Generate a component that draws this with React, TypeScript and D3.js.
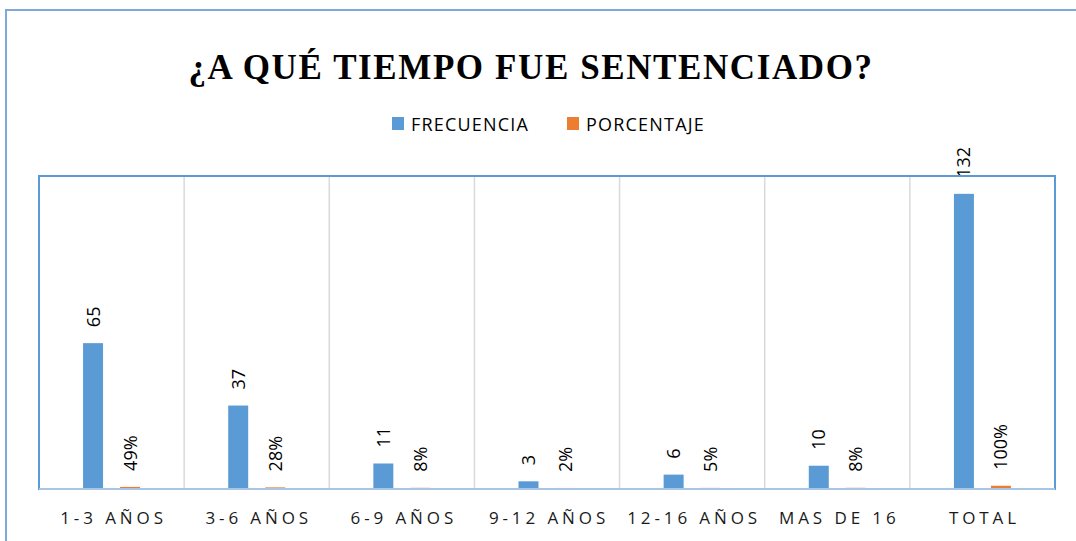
import { useMemo } from "react";
import * as d3 from "d3";

const categories = ["1-3 AÑOS", "3-6 AÑOS", "6-9 AÑOS", "9-12 AÑOS", "12-16 AÑOS", "MAS DE 16", "TOTAL"];
const series = ["FRECUENCIA", "PORCENTAJE"];
const frecuencia = [65, 37, 11, 3, 6, 10, 132];
const porcentaje = [0.49, 0.28, 0.08, 0.02, 0.05, 0.08, 1];
const colors = ["#5b9bd5", "#ed7d31"];

const width = 1076;
const height = 541;
const plot = { left: 39, right: 1055, top: 176, bottom: 488 };

const App = () => {
    const x0 = useMemo(
        () => d3.scaleBand().domain(categories).range([plot.left, plot.right]).padding(0),
        []
    );
    const x1 = d3
        .scaleBand()
        .domain(series)
        .range([0, x0.bandwidth()])
        .paddingInner(0.46)
        .paddingOuter(1.19);
    const y = d3.scaleLinear().domain([0, 140]).range([plot.bottom, plot.top]);

    const rows = categories.map((c, i) => ({
        cat: c,
        vals: [
            { s: series[0], v: frecuencia[i], label: String(frecuencia[i]) },
            { s: series[1], v: porcentaje[i], label: Math.round(porcentaje[i] * 100) + "%" },
        ],
    }));

    const labelFont = "'Open Sans', 'Noto Sans', sans-serif";

    return (
        <svg
            width={width}
            height={height}
            viewBox={`0 0 ${width} ${height}`}
            style={{ position: "absolute", left: 0, top: 0, background: "#fff" }}
        >
            {/* outer chart frame */}
            <rect x={6} y={10} width={1090} height={560} fill="#fff" stroke="#7fa9d8" strokeWidth={2} />

            <text
                x={531}
                y={79}
                textAnchor="middle"
                fontFamily="'Liberation Serif', 'Times New Roman', serif"
                fontWeight="bold"
                fontSize={35}
                letterSpacing={1.6}
                fill="#000"
            >
                ¿A QUÉ TIEMPO FUE SENTENCIADO?
            </text>

            {/* legend */}
            <g fontFamily={labelFont} fontSize={18} letterSpacing={1.2} fill="#000">
                <rect x={392} y={117} width={12} height={13} fill={colors[0]} />
                <text x={411} y={131}>FRECUENCIA</text>
                <rect x={567} y={117} width={12} height={13} fill={colors[1]} />
                <text x={586} y={131}>PORCENTAJE</text>
            </g>

            {/* vertical gridlines between categories */}
            <g stroke="#d9d9d9" strokeWidth={1.5}>
                {categories.slice(1).map((c) => (
                    <line key={c} x1={x0(c)} x2={x0(c)} y1={plot.top} y2={plot.bottom} />
                ))}
            </g>

            <g className="bars">
                {rows.map((r) => (
                    <g key={r.cat} transform={`translate(${x0(r.cat)},0)`}>
                        {r.vals.map((d, j) => (
                            <rect
                                key={d.s}
                                x={x1(d.s)}
                                y={y(d.v)}
                                width={x1.bandwidth()}
                                height={y(0) - y(d.v)}
                                fill={colors[j]}
                            />
                        ))}
                        {r.vals.map((d) => {
                            const cx = (x1(d.s) ?? 0) + x1.bandwidth() / 2;
                            const ty = y(d.v) - 16;
                            return (
                                <text
                                    key={d.s + "l"}
                                    transform={`translate(${cx},${ty}) rotate(-90)`}
                                    dy="0.36em"
                                    fontFamily={labelFont}
                                    fontSize={18}
                                    fill="#000"
                                >
                                    {d.label}
                                </text>
                            );
                        })}
                    </g>
                ))}
            </g>

            {/* plot frame */}
            <rect
                x={plot.left}
                y={plot.top}
                width={plot.right - plot.left}
                height={plot.bottom - plot.top + 1}
                fill="none"
                stroke="#5b9bd5"
                strokeWidth={2}
            />
            <line x1={plot.left} x2={plot.right} y1={plot.bottom + 1} y2={plot.bottom + 1} stroke="#a9c4e4" strokeWidth={2} />

            {/* category labels */}
            <g fontFamily={labelFont} fontSize={17} fill="#1a1a1a" textAnchor="middle" letterSpacing={3.9}>
                {categories.map((c) => (
                    <text key={c} x={(x0(c) ?? 0) + x0.bandwidth() / 2 + 2} y={524}>
                        {c}
                    </text>
                ))}
            </g>
        </svg>
    );
};

export default App;
